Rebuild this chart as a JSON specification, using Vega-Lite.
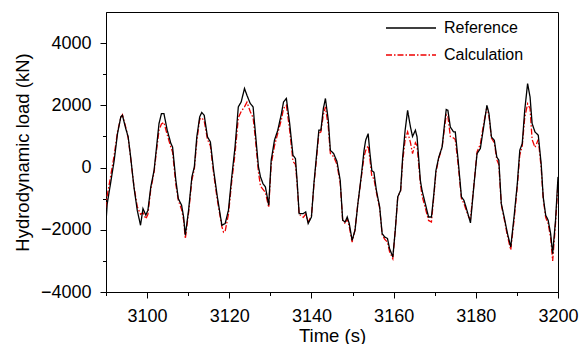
{
  "$schema": "https://vega.github.io/schema/vega-lite/v6.json",
  "width": 452,
  "height": 280,
  "autosize": {"type": "none"},
  "padding": {"left": 106, "top": 12, "right": 28, "bottom": 52},
  "background": "white",
  "config": {
    "view": {"stroke": "black", "strokeWidth": 1},
    "font": "Liberation Sans",
    "axis": {
      "domainColor": "black", "tickColor": "black", "labelColor": "black", "titleColor": "black",
      "labelFont": "Liberation Sans", "titleFont": "Liberation Sans",
      "labelFontSize": 18, "titleFontSize": 18.5, "titleFontWeight": "normal", "grid": false
    },
    "legend": {"labelFont": "Liberation Sans", "labelFontSize": 16, "labelColor": "black"}
  },
  "data": {"values": [
    {"t":3090.0,"s":"Calculation","v":-1300},{"t":3090.3,"s":"Calculation","v":-900},{"t":3091.1,"s":"Calculation","v":-300},{"t":3092.0,"s":"Calculation","v":400},{"t":3092.8,"s":"Calculation","v":1150},{"t":3093.6,"s":"Calculation","v":1600},{"t":3094.0,"s":"Calculation","v":1700},{"t":3094.8,"s":"Calculation","v":1300},{"t":3095.4,"s":"Calculation","v":950},{"t":3096.0,"s":"Calculation","v":300},{"t":3096.8,"s":"Calculation","v":-600},{"t":3097.6,"s":"Calculation","v":-1250},{"t":3098.4,"s":"Calculation","v":-1500},{"t":3099.0,"s":"Calculation","v":-1450},{"t":3099.7,"s":"Calculation","v":-1650},{"t":3100.2,"s":"Calculation","v":-1500},{"t":3100.9,"s":"Calculation","v":-700},{"t":3101.7,"s":"Calculation","v":-150},{"t":3102.3,"s":"Calculation","v":550},{"t":3102.9,"s":"Calculation","v":1200},{"t":3103.5,"s":"Calculation","v":1400},{"t":3104.1,"s":"Calculation","v":1450},{"t":3104.9,"s":"Calculation","v":1050},{"t":3105.8,"s":"Calculation","v":650},{"t":3106.2,"s":"Calculation","v":500},{"t":3107.0,"s":"Calculation","v":-550},{"t":3107.6,"s":"Calculation","v":-1050},{"t":3108.4,"s":"Calculation","v":-1350},{"t":3108.9,"s":"Calculation","v":-1700},{"t":3109.3,"s":"Calculation","v":-2290},{"t":3110.1,"s":"Calculation","v":-1450},{"t":3110.9,"s":"Calculation","v":-400},{"t":3111.5,"s":"Calculation","v":-50},{"t":3112.1,"s":"Calculation","v":850},{"t":3112.8,"s":"Calculation","v":1550},{"t":3113.3,"s":"Calculation","v":1600},{"t":3113.9,"s":"Calculation","v":1500},{"t":3114.7,"s":"Calculation","v":900},{"t":3115.4,"s":"Calculation","v":700},{"t":3116.2,"s":"Calculation","v":-200},{"t":3117.1,"s":"Calculation","v":-1050},{"t":3118.2,"s":"Calculation","v":-1900},{"t":3118.6,"s":"Calculation","v":-2080},{"t":3119.0,"s":"Calculation","v":-2050},{"t":3119.8,"s":"Calculation","v":-1500},{"t":3120.6,"s":"Calculation","v":-450},{"t":3121.4,"s":"Calculation","v":450},{"t":3122.2,"s":"Calculation","v":1600},{"t":3122.9,"s":"Calculation","v":1800},{"t":3123.7,"s":"Calculation","v":1950},{"t":3124.3,"s":"Calculation","v":2100},{"t":3125.1,"s":"Calculation","v":1800},{"t":3125.8,"s":"Calculation","v":1600},{"t":3126.3,"s":"Calculation","v":1000},{"t":3127.1,"s":"Calculation","v":-150},{"t":3127.6,"s":"Calculation","v":-600},{"t":3128.2,"s":"Calculation","v":-700},{"t":3128.8,"s":"Calculation","v":-800},{"t":3129.6,"s":"Calculation","v":-1280},{"t":3130.2,"s":"Calculation","v":100},{"t":3131.0,"s":"Calculation","v":700},{"t":3131.8,"s":"Calculation","v":1100},{"t":3132.7,"s":"Calculation","v":1550},{"t":3133.2,"s":"Calculation","v":1900},{"t":3133.9,"s":"Calculation","v":2000},{"t":3134.7,"s":"Calculation","v":1200},{"t":3135.5,"s":"Calculation","v":200},{"t":3136.1,"s":"Calculation","v":100},{"t":3136.5,"s":"Calculation","v":-500},{"t":3137.0,"s":"Calculation","v":-1500},{"t":3138.0,"s":"Calculation","v":-1600},{"t":3138.6,"s":"Calculation","v":-1500},{"t":3139.2,"s":"Calculation","v":-1750},{"t":3140.0,"s":"Calculation","v":-1550},{"t":3140.6,"s":"Calculation","v":-550},{"t":3141.2,"s":"Calculation","v":250},{"t":3141.8,"s":"Calculation","v":1100},{"t":3142.3,"s":"Calculation","v":1150},{"t":3142.9,"s":"Calculation","v":1700},{"t":3143.4,"s":"Calculation","v":1950},{"t":3144.1,"s":"Calculation","v":1300},{"t":3144.6,"s":"Calculation","v":450},{"t":3145.4,"s":"Calculation","v":350},{"t":3146.2,"s":"Calculation","v":100},{"t":3147.0,"s":"Calculation","v":-500},{"t":3147.6,"s":"Calculation","v":-1700},{"t":3148.2,"s":"Calculation","v":-1800},{"t":3148.7,"s":"Calculation","v":-1650},{"t":3149.2,"s":"Calculation","v":-1900},{"t":3149.9,"s":"Calculation","v":-2400},{"t":3150.6,"s":"Calculation","v":-2000},{"t":3151.3,"s":"Calculation","v":-1150},{"t":3152.1,"s":"Calculation","v":-350},{"t":3152.8,"s":"Calculation","v":350},{"t":3153.2,"s":"Calculation","v":550},{"t":3153.8,"s":"Calculation","v":700},{"t":3154.2,"s":"Calculation","v":300},{"t":3154.7,"s":"Calculation","v":-300},{"t":3155.2,"s":"Calculation","v":-350},{"t":3155.8,"s":"Calculation","v":-800},{"t":3156.6,"s":"Calculation","v":-1300},{"t":3157.2,"s":"Calculation","v":-2150},{"t":3157.8,"s":"Calculation","v":-2300},{"t":3158.5,"s":"Calculation","v":-2400},{"t":3159.0,"s":"Calculation","v":-2700},{"t":3159.8,"s":"Calculation","v":-2930},{"t":3160.4,"s":"Calculation","v":-2000},{"t":3161.0,"s":"Calculation","v":-950},{"t":3161.7,"s":"Calculation","v":-750},{"t":3162.2,"s":"Calculation","v":200},{"t":3162.8,"s":"Calculation","v":900},{"t":3163.4,"s":"Calculation","v":1150},{"t":3164.1,"s":"Calculation","v":800},{"t":3164.6,"s":"Calculation","v":450},{"t":3165.3,"s":"Calculation","v":800},{"t":3165.7,"s":"Calculation","v":700},{"t":3166.5,"s":"Calculation","v":-500},{"t":3166.9,"s":"Calculation","v":-900},{"t":3167.7,"s":"Calculation","v":-1300},{"t":3168.5,"s":"Calculation","v":-1700},{"t":3169.2,"s":"Calculation","v":-1750},{"t":3169.8,"s":"Calculation","v":-900},{"t":3170.3,"s":"Calculation","v":-150},{"t":3171.0,"s":"Calculation","v":300},{"t":3171.8,"s":"Calculation","v":650},{"t":3172.4,"s":"Calculation","v":1300},{"t":3172.8,"s":"Calculation","v":1700},{"t":3173.2,"s":"Calculation","v":1650},{"t":3173.8,"s":"Calculation","v":1000},{"t":3174.6,"s":"Calculation","v":950},{"t":3175.0,"s":"Calculation","v":900},{"t":3175.7,"s":"Calculation","v":100},{"t":3176.5,"s":"Calculation","v":-1000},{"t":3177.1,"s":"Calculation","v":-1150},{"t":3177.6,"s":"Calculation","v":-1350},{"t":3178.3,"s":"Calculation","v":-1600},{"t":3178.7,"s":"Calculation","v":-1650},{"t":3179.5,"s":"Calculation","v":-600},{"t":3180.3,"s":"Calculation","v":500},{"t":3181.1,"s":"Calculation","v":750},{"t":3181.9,"s":"Calculation","v":1400},{"t":3182.7,"s":"Calculation","v":1950},{"t":3183.2,"s":"Calculation","v":1650},{"t":3183.8,"s":"Calculation","v":950},{"t":3184.5,"s":"Calculation","v":800},{"t":3185.1,"s":"Calculation","v":250},{"t":3185.6,"s":"Calculation","v":100},{"t":3186.2,"s":"Calculation","v":-1200},{"t":3186.9,"s":"Calculation","v":-1650},{"t":3187.7,"s":"Calculation","v":-2200},{"t":3188.5,"s":"Calculation","v":-2650},{"t":3189.3,"s":"Calculation","v":-1700},{"t":3190.1,"s":"Calculation","v":-600},{"t":3190.7,"s":"Calculation","v":400},{"t":3191.3,"s":"Calculation","v":700},{"t":3191.9,"s":"Calculation","v":1600},{"t":3192.6,"s":"Calculation","v":2050},{"t":3193.2,"s":"Calculation","v":1900},{"t":3193.7,"s":"Calculation","v":900},{"t":3194.4,"s":"Calculation","v":650},{"t":3195.2,"s":"Calculation","v":900},{"t":3195.9,"s":"Calculation","v":0},{"t":3196.4,"s":"Calculation","v":-1000},{"t":3197.0,"s":"Calculation","v":-1600},{"t":3197.6,"s":"Calculation","v":-1800},{"t":3198.2,"s":"Calculation","v":-2250},{"t":3198.7,"s":"Calculation","v":-3000},{"t":3199.4,"s":"Calculation","v":-1800},{"t":3200.0,"s":"Calculation","v":-500},
    {"t":3090.0,"s":"Reference","v":-1750},{"t":3090.3,"s":"Reference","v":-1160},{"t":3091.1,"s":"Reference","v":-515},{"t":3092.0,"s":"Reference","v":235},{"t":3092.8,"s":"Reference","v":1090},{"t":3093.6,"s":"Reference","v":1630},{"t":3094.0,"s":"Reference","v":1680},{"t":3094.8,"s":"Reference","v":1255},{"t":3095.4,"s":"Reference","v":985},{"t":3096.0,"s":"Reference","v":340},{"t":3096.8,"s":"Reference","v":-625},{"t":3097.6,"s":"Reference","v":-1370},{"t":3098.4,"s":"Reference","v":-1855},{"t":3099.0,"s":"Reference","v":-1320},{"t":3099.7,"s":"Reference","v":-1530},{"t":3100.2,"s":"Reference","v":-1370},{"t":3100.9,"s":"Reference","v":-625},{"t":3101.7,"s":"Reference","v":-90},{"t":3102.3,"s":"Reference","v":660},{"t":3102.9,"s":"Reference","v":1415},{"t":3103.5,"s":"Reference","v":1736},{"t":3104.1,"s":"Reference","v":1736},{"t":3104.9,"s":"Reference","v":1200},{"t":3105.8,"s":"Reference","v":770},{"t":3106.2,"s":"Reference","v":660},{"t":3107.0,"s":"Reference","v":-410},{"t":3107.6,"s":"Reference","v":-1000},{"t":3108.4,"s":"Reference","v":-1210},{"t":3108.9,"s":"Reference","v":-1600},{"t":3109.3,"s":"Reference","v":-2175},{"t":3110.1,"s":"Reference","v":-1370},{"t":3110.9,"s":"Reference","v":-300},{"t":3111.5,"s":"Reference","v":20},{"t":3112.1,"s":"Reference","v":985},{"t":3112.8,"s":"Reference","v":1630},{"t":3113.3,"s":"Reference","v":1770},{"t":3113.9,"s":"Reference","v":1680},{"t":3114.7,"s":"Reference","v":985},{"t":3115.4,"s":"Reference","v":825},{"t":3116.2,"s":"Reference","v":-90},{"t":3117.1,"s":"Reference","v":-945},{"t":3118.2,"s":"Reference","v":-1855},{"t":3119.0,"s":"Reference","v":-1800},{"t":3119.8,"s":"Reference","v":-1370},{"t":3120.6,"s":"Reference","v":-300},{"t":3121.4,"s":"Reference","v":660},{"t":3122.2,"s":"Reference","v":1950},{"t":3122.9,"s":"Reference","v":2110},{"t":3123.7,"s":"Reference","v":2540},{"t":3124.3,"s":"Reference","v":2325},{"t":3125.1,"s":"Reference","v":2060},{"t":3125.8,"s":"Reference","v":1950},{"t":3126.3,"s":"Reference","v":1200},{"t":3127.1,"s":"Reference","v":20},{"t":3127.6,"s":"Reference","v":-300},{"t":3128.2,"s":"Reference","v":-515},{"t":3128.8,"s":"Reference","v":-625},{"t":3129.6,"s":"Reference","v":-1210},{"t":3130.2,"s":"Reference","v":235},{"t":3131.0,"s":"Reference","v":880},{"t":3131.8,"s":"Reference","v":1200},{"t":3132.7,"s":"Reference","v":1736},{"t":3133.2,"s":"Reference","v":2110},{"t":3133.9,"s":"Reference","v":2220},{"t":3134.7,"s":"Reference","v":1415},{"t":3135.5,"s":"Reference","v":395},{"t":3136.1,"s":"Reference","v":290},{"t":3136.5,"s":"Reference","v":-410},{"t":3137.0,"s":"Reference","v":-1480},{"t":3138.0,"s":"Reference","v":-1480},{"t":3138.6,"s":"Reference","v":-1425},{"t":3139.2,"s":"Reference","v":-1800},{"t":3140.0,"s":"Reference","v":-1590},{"t":3140.6,"s":"Reference","v":-515},{"t":3141.2,"s":"Reference","v":340},{"t":3141.8,"s":"Reference","v":1200},{"t":3142.3,"s":"Reference","v":1200},{"t":3142.9,"s":"Reference","v":1900},{"t":3143.4,"s":"Reference","v":2220},{"t":3144.1,"s":"Reference","v":1520},{"t":3144.6,"s":"Reference","v":555},{"t":3145.4,"s":"Reference","v":450},{"t":3146.2,"s":"Reference","v":200},{"t":3147.0,"s":"Reference","v":-410},{"t":3147.6,"s":"Reference","v":-1690},{"t":3148.2,"s":"Reference","v":-1750},{"t":3148.7,"s":"Reference","v":-1590},{"t":3149.2,"s":"Reference","v":-1800},{"t":3149.9,"s":"Reference","v":-2340},{"t":3150.6,"s":"Reference","v":-2015},{"t":3151.3,"s":"Reference","v":-1160},{"t":3152.1,"s":"Reference","v":-300},{"t":3152.8,"s":"Reference","v":555},{"t":3153.2,"s":"Reference","v":880},{"t":3153.8,"s":"Reference","v":1090},{"t":3154.2,"s":"Reference","v":500},{"t":3154.7,"s":"Reference","v":-100},{"t":3155.2,"s":"Reference","v":-150},{"t":3155.8,"s":"Reference","v":-730},{"t":3156.6,"s":"Reference","v":-1265},{"t":3157.2,"s":"Reference","v":-2120},{"t":3157.8,"s":"Reference","v":-2230},{"t":3158.5,"s":"Reference","v":-2280},{"t":3159.0,"s":"Reference","v":-2600},{"t":3159.8,"s":"Reference","v":-2875},{"t":3160.4,"s":"Reference","v":-2015},{"t":3161.0,"s":"Reference","v":-945},{"t":3161.7,"s":"Reference","v":-730},{"t":3162.2,"s":"Reference","v":340},{"t":3162.8,"s":"Reference","v":1200},{"t":3163.4,"s":"Reference","v":1840},{"t":3164.1,"s":"Reference","v":1300},{"t":3164.6,"s":"Reference","v":1000},{"t":3165.3,"s":"Reference","v":1200},{"t":3165.7,"s":"Reference","v":985},{"t":3166.5,"s":"Reference","v":-410},{"t":3166.9,"s":"Reference","v":-730},{"t":3167.7,"s":"Reference","v":-1160},{"t":3168.5,"s":"Reference","v":-1590},{"t":3169.2,"s":"Reference","v":-1590},{"t":3169.8,"s":"Reference","v":-835},{"t":3170.3,"s":"Reference","v":-90},{"t":3171.0,"s":"Reference","v":340},{"t":3171.8,"s":"Reference","v":660},{"t":3172.4,"s":"Reference","v":1415},{"t":3172.8,"s":"Reference","v":1865},{"t":3173.2,"s":"Reference","v":1840},{"t":3173.8,"s":"Reference","v":1300},{"t":3174.6,"s":"Reference","v":1145},{"t":3175.0,"s":"Reference","v":1145},{"t":3175.7,"s":"Reference","v":235},{"t":3176.5,"s":"Reference","v":-945},{"t":3177.1,"s":"Reference","v":-1050},{"t":3177.6,"s":"Reference","v":-1265},{"t":3178.3,"s":"Reference","v":-1590},{"t":3178.7,"s":"Reference","v":-1780},{"t":3179.5,"s":"Reference","v":-625},{"t":3180.3,"s":"Reference","v":450},{"t":3181.1,"s":"Reference","v":610},{"t":3181.9,"s":"Reference","v":1300},{"t":3182.7,"s":"Reference","v":2000},{"t":3183.2,"s":"Reference","v":1736},{"t":3183.8,"s":"Reference","v":985},{"t":3184.5,"s":"Reference","v":880},{"t":3185.1,"s":"Reference","v":340},{"t":3185.6,"s":"Reference","v":235},{"t":3186.2,"s":"Reference","v":-1160},{"t":3186.9,"s":"Reference","v":-1590},{"t":3187.7,"s":"Reference","v":-2120},{"t":3188.5,"s":"Reference","v":-2550},{"t":3189.3,"s":"Reference","v":-1590},{"t":3190.1,"s":"Reference","v":-515},{"t":3190.7,"s":"Reference","v":555},{"t":3191.3,"s":"Reference","v":770},{"t":3191.9,"s":"Reference","v":1840},{"t":3192.6,"s":"Reference","v":2700},{"t":3193.2,"s":"Reference","v":2270},{"t":3193.7,"s":"Reference","v":1415},{"t":3194.4,"s":"Reference","v":1145},{"t":3195.2,"s":"Reference","v":1040},{"t":3195.9,"s":"Reference","v":130},{"t":3196.4,"s":"Reference","v":-945},{"t":3197.0,"s":"Reference","v":-1530},{"t":3197.6,"s":"Reference","v":-1690},{"t":3198.2,"s":"Reference","v":-2120},{"t":3198.7,"s":"Reference","v":-2765},{"t":3199.4,"s":"Reference","v":-1690},{"t":3200.0,"s":"Reference","v":-300}
  ]},
  "mark": {"type": "line", "strokeWidth": 1.3, "clip": true},
  "encoding": {
    "x": {
      "field": "t", "type": "quantitative",
      "scale": {"domain": [3090, 3200], "nice": false, "zero": false},
      "axis": {
        "title": "Time (s)", "values": [3090, 3100, 3110, 3120, 3130, 3140, 3150, 3160, 3170, 3180, 3190, 3200],
        "format": "d", "labelExpr": "datum.value % 20 === 0 ? datum.label : ''",
        "tickSize": {"condition": {"test": "datum.value % 20 === 0", "value": 6}, "value": 3.5},
        "labelPadding": 9, "titlePadding": 1, "labelFlush": false, "labelOverlap": false
      }
    },
    "y": {
      "field": "v", "type": "quantitative",
      "scale": {"domain": [-4000, 5000], "nice": false, "zero": false},
      "axis": {
        "title": "Hydrodynamic load (kN)", "values": [-4000, -3000, -2000, -1000, 0, 1000, 2000, 3000, 4000],
        "format": "d", "labelExpr": "datum.value % 2000 === 0 ? datum.label : ''",
        "tickSize": {"condition": {"test": "datum.value % 2000 === 0", "value": 6}, "value": 3.5},
        "labelPadding": 9, "titlePadding": 8, "labelFlush": false, "labelOverlap": false
      }
    },
    "color": {
      "field": "s", "type": "nominal",
      "scale": {"domain": ["Reference", "Calculation"], "range": ["#000000", "#ee0000"]},
      "legend": {
        "title": null, "orient": "none", "legendX": 294, "legendY": 5, "padding": 0,
        "symbolType": "M-2.5,0H2.5", "symbolSize": 400, "symbolStrokeWidth": 1.3,
        "labelOffset": 22, "rowPadding": 8
      }
    },
    "strokeDash": {
      "field": "s", "type": "nominal",
      "scale": {"domain": ["Reference", "Calculation"], "range": [[1, 0], [6, 2, 1.5, 2]]},
      "legend": {
        "title": null, "orient": "none", "legendX": 294, "legendY": 5, "padding": 0,
        "symbolType": "M-2.5,0H2.5", "symbolSize": 400, "symbolStrokeWidth": 1.3,
        "labelOffset": 22, "rowPadding": 8
      }
    }
  }
}
